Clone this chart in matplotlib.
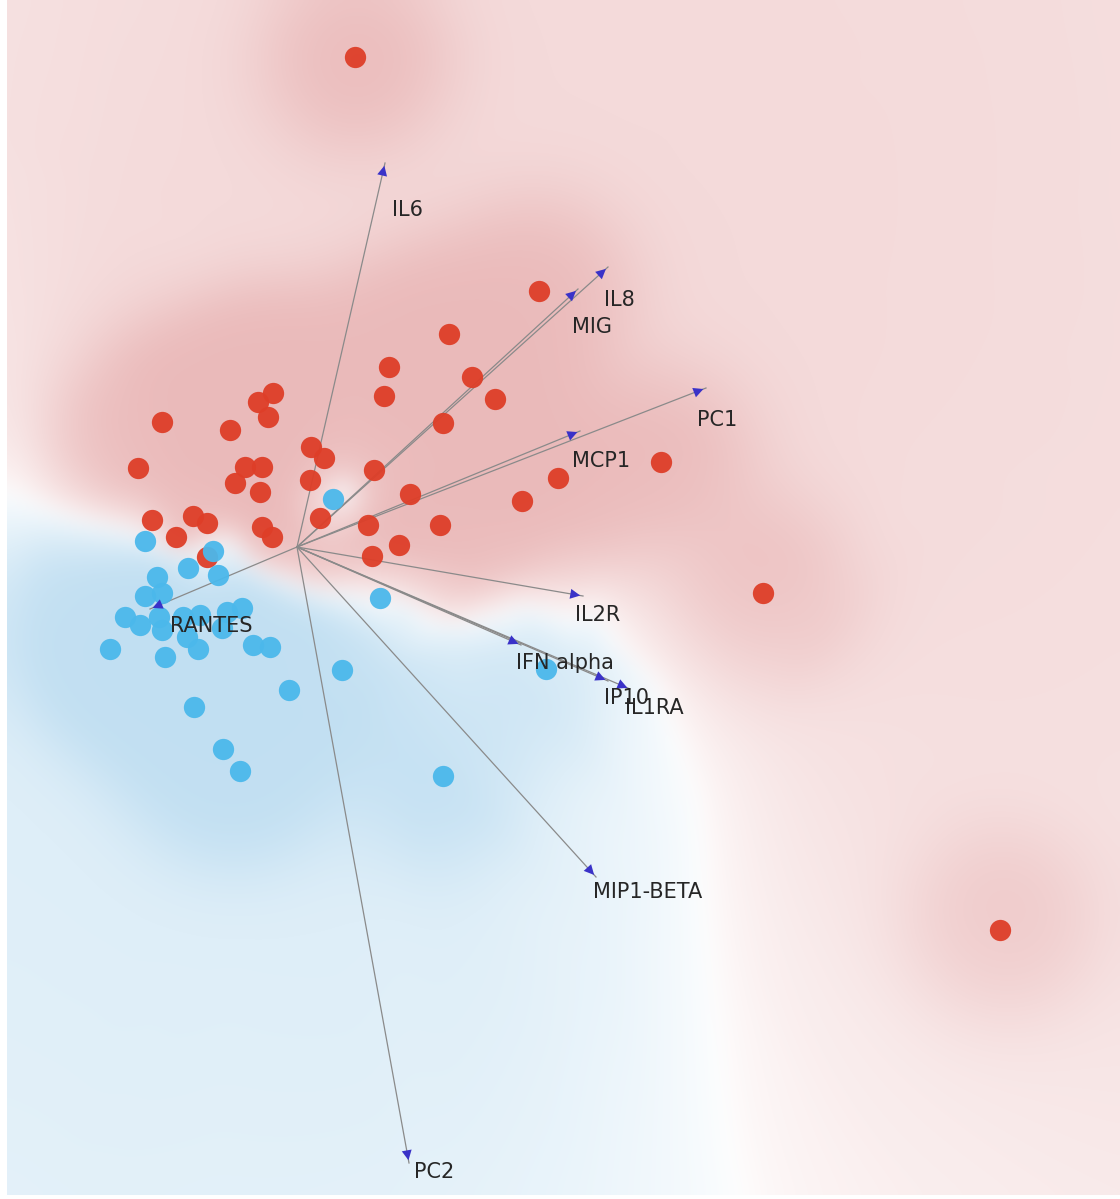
import numpy as np
import matplotlib.pyplot as plt

# sample scores on the first two components (biplot units)
red_x = [0.58, 2.42, 1.52, 0.92, 1.75, 0.87, 1.98, 1.46, 3.64, 2.61,
         2.25, 1.13, 1.43, 0.77, 0.71, 1.02, 0.75, 4.66, 7.03, -1.35,
         -0.24, -0.39, -0.29, -0.67, -1.59, -0.52, -0.35, -0.62, -0.37, 0.14,
         0.27, 0.13, 0.23, -1.45, -1.04, -0.90, -1.21, -0.35, -0.25, -0.90]
red_y = [4.90, 2.56, 2.13, 1.80, 1.70, 1.51, 1.48, 1.24, 0.85, 0.69,
         0.46, 0.53, 0.22, 0.77, 0.22, 0.02, -0.09, -0.46, -3.83, 1.25,
         1.54, 1.45, 1.30, 1.17, 0.79, 0.80, 0.80, 0.64, 0.55, 1.00,
         0.89, 0.67, 0.29, 0.27, 0.31, 0.24, 0.10, 0.20, 0.10, -0.10]

blue_x = [0.36, -1.52, -0.84, -1.09, -0.79, -1.40, -1.52, -1.35, -1.72, -1.57,
          -1.38, -1.35, -1.14, -0.97, -1.10, -0.99, -0.75, -0.70, -0.55, -1.87,
          -1.32, -0.44, -0.27, 0.83, 0.45, -0.08, -1.03, -0.74, -0.57, 1.46, 2.49]
blue_y = [0.48, 0.06, -0.04, -0.21, -0.28, -0.30, -0.49, -0.46, -0.70, -0.78,
          -0.70, -0.83, -0.70, -0.68, -0.90, -1.02, -0.81, -0.65, -0.61, -1.02,
          -1.10, -0.98, -1.00, -0.51, -1.23, -1.43, -1.60, -2.02, -2.24, -2.29, -1.22]

# variable loadings
load_names = ['IL6', 'IL8', 'MIG', 'PC1', 'MCP1', 'IL2R', 'IFN alpha',
              'IP10', 'IL1RA', 'MIP1-BETA', 'PC2', 'RANTES']
load_x = [0.88, 3.11, 2.81, 4.09, 2.83, 2.86, 2.24, 3.11, 3.33, 2.99, 1.12, -1.47]
load_y = [3.84, 2.80, 2.58, 1.59, 1.16, -0.49, -0.98, -1.34, -1.42, -3.30, -6.16, -0.62]

# label offsets from the arrow tips, in pixels (right, up)
label_dx = [7, -4, -6, -9, -8, -8, -5, -4, -5, -3, 5, 20]
label_dy = [-47, -33, -38, -32, -30, -19, -18, -17, -19, -15, -9, -17]

RED = '#de3e28'
BLUE = '#4bb8eb'
RED_TINT = np.array([200, 70, 70]) / 255
BLUE_TINT = np.array([90, 170, 220]) / 255

fig = plt.figure(figsize=(11.2, 11.99), dpi=100)
ax = fig.add_axes([7 / 1120, 4 / 1199, 1113 / 1120, 1195 / 1199])
x0, x1, y0, y1 = -2.90, 8.23, -6.48, 5.47
ax.set_xlim(x0, x1)
ax.set_ylim(y0, y1)
ax.axis('off')


def blur(a, sigma):
    # separable gaussian blur along the two image axes, edges padded
    r = int(3 * sigma)
    t = np.arange(-r, r + 1)
    g = np.exp(-t ** 2 / (2 * sigma ** 2))
    g /= g.sum()
    for axis in (0, 1):
        pad = [(0, 0)] * a.ndim
        pad[axis] = (r, r)
        a = np.apply_along_axis(lambda v: np.convolve(v, g, mode='valid'), axis, np.pad(a, pad, mode='edge'))
    return a


# soft k-nearest-neighbour class field behind the points
px = np.array(red_x + blue_x)
py = np.array(red_y + blue_y)
is_red = np.r_[np.ones(len(red_x)), np.zeros(len(blue_x))]
gx, gy = np.meshgrid(np.linspace(x0, x1, 400), np.linspace(y1, y0, 430))
d2 = (gx[..., None] - px) ** 2 + (gy[..., None] - py) ** 2
k = 6
h2 = np.sort(d2, axis=-1)[..., k - 1:k] * 0.35
w = np.exp(-d2 / h2)
p = (w * is_red).sum(-1) / w.sum(-1)
conf = np.abs(2 * p - 1)

near = np.exp(-d2 / (2 * 0.55 ** 2))
dens = np.where(p > 0.5, (near * is_red).sum(-1), (near * (1 - is_red)).sum(-1))
s = conf ** 0.55 * (0.2 + 0.17 * (1 - np.exp(-dens / 0.45)))
tint = np.where((p > 0.5)[..., None], RED_TINT, BLUE_TINT)
img = np.clip(blur(1 - s[..., None] * (1 - tint), 4), 0, 1)
ax.imshow(img, extent=(x0, x1, y0, y1), aspect='auto', interpolation='bilinear', zorder=0)

# loading vectors
for name, lx, ly, dx, dy in zip(load_names, load_x, load_y, label_dx, label_dy):
    ax.plot([0, lx], [0, ly], color='#8a8a8a', lw=0.9, zorder=1)
    ux, uy = lx / np.hypot(lx, ly), ly / np.hypot(lx, ly)
    ax.annotate('', xy=(lx, ly), xytext=(lx - 0.12 * ux, ly - 0.12 * uy),
                arrowprops=dict(arrowstyle='-|>', color='#3a32c8', lw=0, mutation_scale=18), zorder=4)
    ax.annotate(name, xy=(lx, ly), xytext=(dx, dy), textcoords='offset pixels',
                ha='left', va='center', fontsize=15, color='#262626', zorder=5)

ax.scatter(red_x, red_y, s=235, color=RED, alpha=0.95, linewidths=0, zorder=2)
ax.scatter(blue_x, blue_y, s=235, color=BLUE, alpha=0.95, linewidths=0, zorder=3)

fig.savefig('out.png', dpi=100)
